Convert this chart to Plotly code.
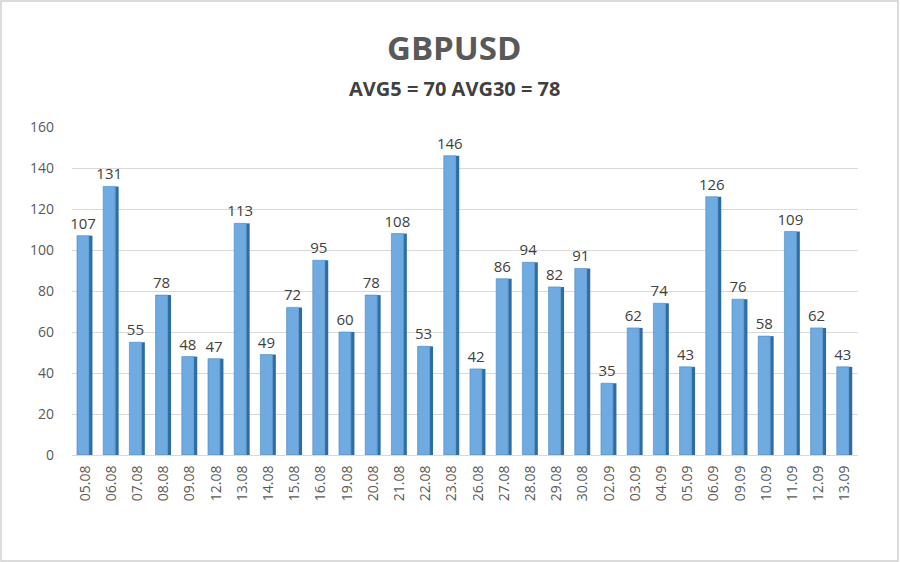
import plotly.graph_objects as go

dates = ["05.08","06.08","07.08","08.08","09.08","12.08","13.08","14.08","15.08","16.08",
         "19.08","20.08","21.08","22.08","23.08","26.08","27.08","28.08","29.08","30.08",
         "02.09","03.09","04.09","05.09","06.09","09.09","10.09","11.09","12.09","13.09"]
values = [107,131,55,78,48,47,113,49,72,95,60,78,108,53,146,42,86,94,82,91,
          35,62,74,43,126,76,58,109,62,43]
title_text = "GBPUSD"
subtitle_text = "AVG5 = 70 AVG30 = 78"
y_ticks = [0, 20, 40, 60, 80, 100, 120, 140, 160]

W, H = 900, 562
ML, MR, MT, MB = 72, 42, 127, 107
plot_w = W - ML - MR
plot_h = H - MT - MB
title_x = (454 - ML) / plot_w

fig = go.Figure()
# dark side face (pseudo-3D)
fig.add_trace(go.Bar(
    x=dates, y=values, width=0.13, offset=0.15,
    marker=dict(color="#2E6DA4", line=dict(width=0)),
    hoverinfo="skip", showlegend=False,
))
# front face
fig.add_trace(go.Bar(
    x=dates, y=values, width=0.46, offset=-0.31,
    marker=dict(color="#6FAAE0", line=dict(color="#4A86C0", width=0.6)),
    text=[str(v) for v in values], textposition="outside", constraintext="none",
    textfont=dict(family="Open Sans, Liberation Sans, sans-serif", size=15, color="#404040"),
    cliponaxis=False, showlegend=False,
))

fig.update_layout(
    width=W, height=H,
    barmode="overlay",
    paper_bgcolor="white", plot_bgcolor="white",
    margin=dict(l=ML, r=MR, t=MT, b=MB, autoexpand=False),
    font=dict(family="Open Sans, Liberation Sans, sans-serif", color="#595959"),
    annotations=[
        dict(text="<b>" + title_text + "</b>", x=title_x, y=(H - MB - 47) / plot_h,
             xref="paper", yref="paper", yanchor="middle",
             showarrow=False, font=dict(size=33, color="#595959")),
        dict(text="<b>" + subtitle_text + "</b>", x=title_x, y=(H - MB - 88) / plot_h,
             xref="paper", yref="paper", yanchor="middle",
             showarrow=False, font=dict(size=20, color="#404040")),
    ],
    shapes=[dict(type="rect", xref="paper", yref="paper",
                 x0=(1 - ML) / plot_w, x1=(W - ML - 2) / plot_w,
                 y0=-(MB - 1) / plot_h, y1=(H - MB - 1) / plot_h,
                 line=dict(color="#D0D0D0", width=1.5))],
)

fig.update_xaxes(
    tickangle=-90, tickfont=dict(size=14, color="#595959"),
    showgrid=False, showline=True, linecolor="#D9D9D9", ticks="",
    automargin=False, ticklabelstandoff=4,
)
fig.update_yaxes(
    range=[0, 160], tickvals=y_ticks, tickfont=dict(size=14, color="#595959"),
    showgrid=True, gridcolor="#D9D9D9", gridwidth=1.2, zeroline=False, ticks="",
    ticklabelstandoff=17, automargin=False,
)

fig.write_html("out.html", config={"displayModeBar": False},
               post_script="document.body.style.margin='0';document.body.style.overflow='hidden';")
